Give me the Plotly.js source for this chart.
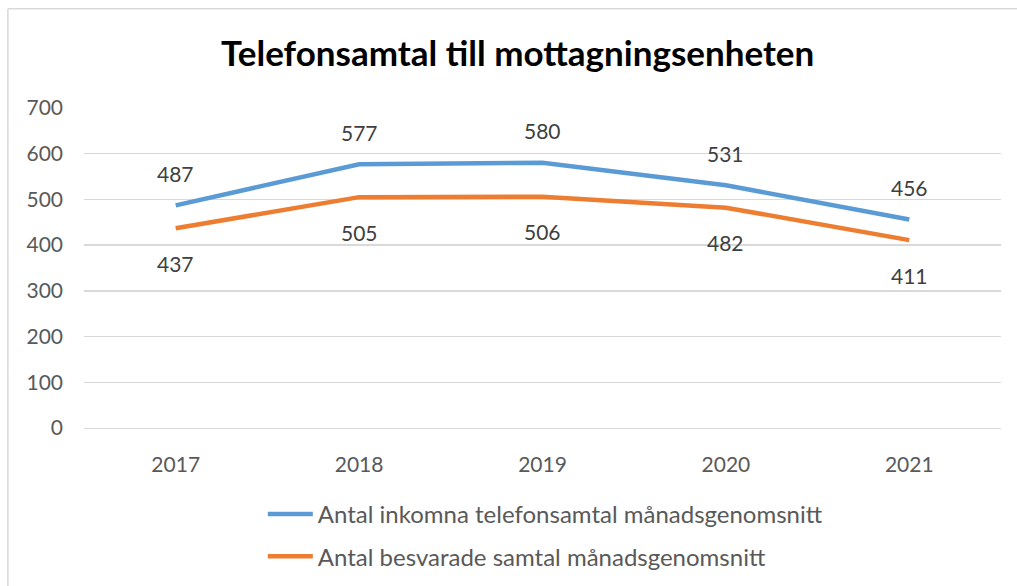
<!DOCTYPE html>
<html><head><meta charset="utf-8">
<script src="https://cdn.plot.ly/plotly-3.0.1.min.js"></script>
<style>html,body{margin:0;padding:0;background:#fff;}</style>
</head><body>
<div id="chart" style="width:1017px;height:586px;"></div>
<script>
const years = ['2017','2018','2019','2020','2021'];
const incoming = [487, 577, 580, 531, 456];
const answered = [437, 505, 506, 482, 411];
const nameIncoming = 'Antal inkomna telefonsamtal månadsgenomsnitt';
const nameAnswered = 'Antal besvarade samtal månadsgenomsnitt';
const blue = '#5B9BD5', orange = '#ED7D31';
const FONT = 'Lato, "Open Sans", sans-serif';

const traces = [
  {x: years, y: incoming, name: nameIncoming, type: 'scatter', mode: 'lines',
   line: {color: blue, width: 4.5}, legendgroup: 'a'},
  {x: years, y: answered, name: nameAnswered, type: 'scatter', mode: 'lines',
   line: {color: orange, width: 4.5}, legendgroup: 'b'}
];

const annotations = [];
years.forEach((yr, i) => {
  annotations.push({xref: 'x', yref: 'y', x: i, y: incoming[i], text: String(incoming[i]), showarrow: false,
    yshift: 32, font: {family: FONT, size: 21, color: '#404040'}});
  annotations.push({xref: 'x', yref: 'y', x: i, y: answered[i], text: String(answered[i]), showarrow: false,
    yshift: -35, font: {family: FONT, size: 21, color: '#404040'}});
});

const layout = {
  width: 1017, height: 586,
  margin: {l: 84, r: 16, t: 108, b: 158, autoexpand: false},
  paper_bgcolor: '#fff', plot_bgcolor: '#fff',
  title: {text: '<b>Telefonsamtal till mottagningsenheten</b>', x: 0.509, xanchor: 'center',
    y: 0.908, yanchor: 'middle', font: {family: FONT, size: 35, color: '#000'}},
  font: {family: FONT, color: '#595959', size: 21},
  xaxis: {type: 'category', range: [-0.5, 4.5], showgrid: false, zeroline: false,
    showline: true, linecolor: '#D9D9D9', linewidth: 1, ticks: '', ticklabelstandoff: 18,
    tickfont: {family: FONT, size: 21, color: '#595959'}, fixedrange: true, automargin: false},
  yaxis: {range: [0, 700], dtick: 100, showgrid: true, gridcolor: '#D9D9D9', gridwidth: 1.3,
    zeroline: false, showline: false, ticks: '', ticklabelstandoff: 20,
    tickfont: {family: FONT, size: 21, color: '#595959'}, fixedrange: true, automargin: false},
  showlegend: true,
  legend: {orientation: 'v', x: 0.195, xanchor: 'left', y: -0.2, yanchor: 'top',
    font: {family: FONT, size: 24, color: '#595959'}, tracegroupgap: 8, itemwidth: 45,
    bgcolor: 'rgba(0,0,0,0)'},
  annotations: annotations,
  shapes: [
    {type: 'line', xref: 'paper', yref: 'paper', x0: -0.083, x1: -0.083, y0: 1.31, y1: -0.6,
     line: {color: '#D9D9D9', width: 1.5}},
    {type: 'line', xref: 'paper', yref: 'paper', x0: -0.083, x1: 1.03, y0: 1.31, y1: 1.31,
     line: {color: '#D9D9D9', width: 1.5}}
  ]
};

Plotly.newPlot('chart', traces, layout, {displayModeBar: false, staticPlot: true});
</script>
</body></html>
